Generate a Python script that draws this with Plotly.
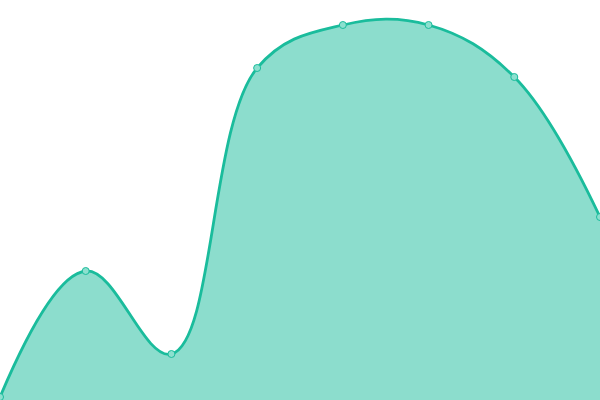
import plotly.graph_objects as go

# data
x_idx = [0, 1, 2, 3, 4, 5, 6, 7]
valeurs = [3, 129, 46, 332, 375, 375, 323, 183]

fig = go.Figure()
fig.add_trace(go.Scatter(
    x=x_idx,
    y=valeurs,
    mode="lines+markers",
    fill="tozeroy",
    fillcolor="rgba(26,188,156,0.5)",
    line=dict(color="#1abc9c", width=2.8, shape="spline", smoothing=1.1),
    marker=dict(size=7, color="#8ce0cf", line=dict(color="#1abc9c", width=1)),
    hoverinfo="skip",
))

fig.update_layout(
    width=600, height=400,
    margin=dict(l=0, r=0, t=0, b=0),
    showlegend=False,
    plot_bgcolor="#FFF",
    paper_bgcolor="#FFF",
    xaxis=dict(range=[0, 7], visible=False, fixedrange=True),
    yaxis=dict(range=[0, 400], visible=False, fixedrange=True),
)

# enlever la marge par defaut du body pour coller au cadre
fig.write_html("out.html", config={"displayModeBar": False},
               post_script="document.body.style.margin='0';")
